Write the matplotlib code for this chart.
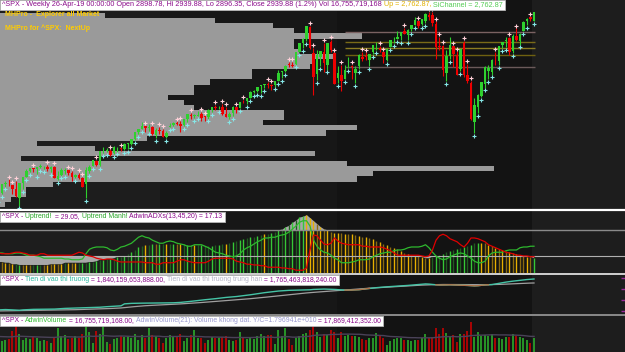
import numpy as np
import matplotlib
matplotlib.use("Agg")
import matplotlib.pyplot as plt
from matplotlib.patches import Rectangle
from matplotlib.lines import Line2D
from matplotlib.font_manager import FontProperties

# ---- weekly ^SPX bars (May 2016 - Apr 2019) ----
opens = [2046,2052,2099,2100,2092,2075,2031,2101,2132,2162, 2174,2173,2183,2184,2183,2171,2181,2121,2140,2163,
         2168,2154,2134,2142,2129,2100,2162,2186,2210,2191, 2258,2260,2260,2251,2273,2272,2267,2294,2295,2319,
         2353,2366,2381,2372,2379,2339,2363,2357,2329,2375, 2387,2398,2393,2387,2416,2437,2432,2432,2440,2431,
         2424,2459,2473,2475,2477,2443,2428,2446,2474,2469, 2503,2505,2521,2548,2555,2578,2583,2590,2580,2583,
         2602,2646,2652,2685,2679,2684,2745,2787,2809,2867, 2741,2637,2722,2745,2682,2791,2741,2619,2633,2614,
         2670,2675,2643,2675,2718,2722,2706,2742,2779,2765, 2742,2704,2769,2802,2810,2821,2849,2827,2858,2876,
         2897,2882,2895,2925,2926,2882,2775,2773,2640,2726, 2773,2731,2659,2790,2630,2591,2400,2476,2531,2586,
         2651,2644,2712,2702,2780,2798,2814,2747,2823,2797, 2848,2896,2914,2898]
highs = [2064,2100,2111,2120,2096,2113,2104,2131,2169,2175, 2177,2183,2194,2188,2193,2185,2187,2163,2175,2176,
         2169,2163,2149,2153,2131,2182,2189,2214,2214,2260, 2278,2273,2267,2282,2279,2276,2301,2300,2319,2352,
         2368,2401,2383,2390,2382,2370,2378,2366,2356,2398, 2400,2404,2406,2418,2440,2446,2441,2454,2450,2432,
         2464,2477,2484,2480,2490,2475,2449,2480,2474,2500, 2508,2520,2552,2557,2575,2582,2588,2598,2589,2604,
         2657,2652,2680,2695,2694,2744,2787,2811,2873,2871, 2763,2755,2748,2789,2787,2802,2742,2675,2683,2680,
         2718,2683,2677,2733,2743,2742,2736,2779,2791,2775, 2743,2764,2804,2816,2848,2841,2863,2855,2877,2916,
         2898,2908,2934,2940,2939,2894,2817,2778,2756,2816, 2775,2747,2760,2800,2685,2601,2520,2538,2598,2675,
         2681,2709,2743,2776,2794,2817,2817,2831,2860,2836, 2894,2911,2918,2940]
lows = [2025,2047,2085,2088,2050,2033,1992,2074,2132,2155, 2159,2148,2175,2172,2160,2157,2127,2119,2139,2145,
        2142,2115,2125,2120,2083,2028,2151,2186,2187,2187, 2248,2255,2233,2245,2257,2259,2264,2268,2288,2313,
        2344,2365,2354,2359,2336,2322,2344,2328,2322,2375, 2380,2385,2353,2380,2403,2415,2419,2429,2405,2407,
        2418,2452,2459,2465,2438,2425,2417,2429,2446,2469, 2496,2488,2520,2545,2547,2544,2566,2566,2557,2575,
        2601,2617,2645,2673,2672,2683,2742,2763,2797,2759, 2533,2608,2675,2648,2658,2742,2586,2594,2553,2611,
        2665,2613,2594,2660,2701,2707,2676,2736,2754,2743, 2692,2699,2769,2790,2806,2802,2833,2802,2848,2876,
        2864,2876,2887,2903,2874,2710,2755,2628,2604,2709, 2670,2631,2649,2621,2593,2409,2347,2444,2525,2570,
        2612,2634,2681,2682,2764,2770,2729,2741,2799,2781, 2848,2876,2897,2896]
closes = [2052,2099,2099,2096,2071,2037,2103,2130,2162,2175, 2173,2183,2184,2184,2169,2180,2128,2139,2165,2168,
          2153,2133,2141,2126,2085,2164,2182,2213,2192,2260, 2258,2263,2239,2277,2275,2271,2295,2297,2316,2351,
          2367,2383,2373,2378,2344,2363,2355,2329,2349,2384, 2399,2391,2382,2416,2439,2432,2433,2438,2423,2425,
          2459,2473,2472,2477,2441,2426,2443,2477,2461,2500, 2502,2519,2549,2553,2575,2581,2588,2582,2579,2602,
          2642,2652,2676,2683,2674,2743,2786,2810,2873,2762, 2620,2732,2747,2691,2786,2752,2588,2641,2604,2656,
          2670,2670,2663,2728,2712,2721,2735,2779,2780,2755, 2718,2760,2801,2802,2819,2840,2833,2850,2875,2902,
          2872,2905,2930,2914,2886,2767,2768,2658,2723,2781, 2736,2633,2760,2633,2600,2417,2486,2532,2596,2671,
          2665,2707,2708,2776,2793,2804,2743,2822,2801,2834, 2893,2907,2905,2940]

# volume at price (bin bottom, relative volume)
vap_price = [1985,2010,2035,2060,2085,2110,2135,2160,2185,2210,2235,2260,2285,2310,2335,2360,2385,2410,2435,2460,
             2485,2510,2535,2560,2585,2610,2635,2660,2685,2710,2735,2760,2785,2810,2835,2860,2885,2910,2935]
vap_vol = [2,3,6,6,11,69,72,95,67,5,61,19,8,29,63,69,51,55,55,38,
           36,33,38,38,41,49,49,60,61,65,58,57,57,70,57,53,42,21,0]

# support / resistance levels
levels = [2842, 2793, 2763, 2729, 2670]
level_colors = ["#7a6262", "#7a6a18", "#8c7c22", "#6e6010", "#6a5a5a"]

# AdwinADXs panel
adx = [12,12,11,11,9,9,8,8,8,8, 8,8,8,8,8,9,9,9,9,11, 11,11,11,11,11,11,12,12,13,15,
       15,16,16,17,19,19,20,23,25,28, 32,33,35,35,36,36,36,36,36,36, 36,36,36,36,35,35,35,35,35,33,
       33,33,35,35,36,36,37,39,40,41, 43,44,45,45,47,48,49,49,51,52, 55,56,59,61,65,68,72,73,75,71,
       67,63,59,56,55,52,51,51,51,49, 49,49,48,47,45,45,44,43,40,39, 36,35,32,31,29,27,24,23,21,20,
       20,19,17,17,19,20,21,23,25,27, 28,29,31,32,33,35,37,37,37,37, 35,33,31,29,28,27,25,24,23,21,
       20,19,19,17.13]
uptrend = [24,24,23,23,23,24,24,23,21,21, 21,20,19,17,17,17,17,17,17,16, 16,15,15,15,16,23,29,31,32,32,
           32,31,28,27,29,32,33,35,37,41, 45,47,45,44,41,39,37,37,39,40, 39,37,36,35,33,33,35,35,35,33,
           31,28,25,24,23,21,20,19,20,23, 28,31,33,36,39,41,44,44,45,45, 47,48,49,52,56,60,65,67,67,60,
           41,33,28,25,24,21,17,15,11,11, 11,12,13,15,15,15,16,19,21,23, 24,25,25,27,28,28,29,31,32,32,
           32,33,35,31,25,20,17,15,16,19, 21,23,24,23,20,17,13,11,11,13, 20,24,25,25,25,27,28,28,28,31,
           32,32,33,33]
downtrend = [24,23,23,23,24,25,25,24,23,21, 21,21,23,23,21,21,21,21,21,21, 21,21,23,25,24,21,20,19,17,16,
             15,16,16,15,13,12,12,12,12,12, 12,12,11,11,11,9,9,11,11,11, 11,13,15,15,13,12,11,11,11,11,
             13,16,17,17,17,17,17,16,13,12, 11,9,9,8,8,7,7,5,5,5, 5,4,4,3,3,1,1,1,4,28,
             48,47,41,36,35,37,44,40,37,36, 35,35,35,35,33,33,32,32,32,32, 31,29,27,24,21,21,21,21,21,21,
             21,20,19,20,28,41,47,49,47,43, 41,39,35,32,37,44,44,43,41,39, 35,33,31,29,27,25,24,23,21,21,
             20,20,19,19]
adx_state = ("YyYyYgGyYy" "gGgyYyYyYg" "YyYgGgGgGg" "GgGgGgGgGg" "GgYgGyGgYg" "GyYgGgYgGg"
             "gGgGgYgGgG" "GgGgGgYgGg" "GgGgGgGGYY" "YyYyYyYYyY" "yYyYyYyYyY" "yYyYyYyYyY"
             "yYyYgGgGgG" "gGgGgGgGYy" "YyYyYyYyYy" "yYyG")

# money flow panel (billions)
flow = [1262,1265,1268,1266,1262,1258,1255,1262,1266,1270, 1272,1273,1275,1276,1276,1278,1277,1282,1285,1290,
        1292,1294,1296,1298,1300,1302,1305,1308,1310,1312, 1318,1322,1326,1330,1334,1338,1375,1380,1384,1386,
        1388,1388,1389,1390,1390,1391,1392,1392,1393,1393, 1395,1398,1402,1408,1415,1422,1430,1440,1447,1452,
        1458,1465,1472,1480,1488,1495,1500,1505,1512,1520, 1528,1536,1545,1555,1565,1575,1584,1592,1600,1608,
        1615,1620,1625,1628,1630,1632,1634,1636,1637,1638, 1645,1648,1650,1652,1650,1648,1645,1640,1635,1632,
        1632,1634,1636,1640,1648,1655,1665,1672,1678,1684, 1690,1694,1698,1702,1706,1710,1714,1720,1726,1732,
        1738,1744,1748,1745,1738,1732,1728,1728,1730,1732, 1730,1728,1726,1724,1720,1716,1712,1715,1722,1730,
        1732,1736,1748,1762,1772,1782,1792,1800,1808,1815, 1822,1830,1836,1840.16]
flow_mid = [1242,1243,1244,1245,1246,1247,1248,1249,1250,1251, 1252,1253,1254,1255,1256,1257,1258,1259,1260,1261,
            1262,1264,1266,1268,1270,1272,1274,1276,1278,1280, 1282,1285,1288,1291,1294,1298,1305,1312,1318,1324,
            1330,1335,1340,1344,1348,1351,1354,1357,1360,1363, 1366,1370,1374,1378,1382,1386,1390,1395,1400,1405,
            1410,1415,1420,1425,1430,1435,1440,1445,1450,1455, 1460,1466,1472,1478,1484,1490,1497,1504,1511,1518,
            1525,1532,1539,1546,1553,1560,1567,1573,1579,1585, 1590,1595,1600,1605,1610,1615,1620,1625,1630,1636,
            1640,1645,1650,1656,1660,1664,1668,1672,1676,1680, 1684,1688,1692,1696,1700,1704,1708,1712,1716,1720,
            1723,1726,1729,1731,1733,1735,1736,1737,1737,1737, 1737,1737,1737,1737,1736,1735,1734,1733,1733,1733,
            1734,1735,1737,1739,1741,1744,1747,1750,1754,1758, 1760,1762,1764,1765.46]

# volume panel (billions)
volume = [17.5,14.0,15.0,16.0,22.0,27.0,20.0,15.5,17.0,16.0, 17.5,16.5,14.5,15.0,14.0,13.0,17.0,24.0,18.0,19.0,
          16.0,17.0,18.5,17.0,19.5,28.0,21.0,13.0,22.0,20.0, 26.0,13.5,12.0,16.0,17.0,18.0,17.5,18.0,17.0,19.5,
          15.0,19.0,17.0,24.0,19.0,18.0,16.5,13.0,17.0,19.0, 18.5,18.0,20.0,14.5,17.0,19.0,23.0,16.5,17.0,13.0,
          15.5,17.5,17.0,16.5,17.5,18.0,15.5,14.5,15.0,21.0, 16.5,16.0,17.0,16.0,18.5,19.5,18.5,19.0,19.0,12.0,
          22.5,18.5,24.5,16.0,11.0,17.0,18.5,20.0,20.5,22.5, 31.0,21.0,17.5,19.5,19.0,23.0,21.5,17.0,21.5,18.0,
          19.0,18.5,18.0,17.5,16.0,15.5,17.0,16.5,20.5,18.5, 17.0,11.5,14.5,16.0,17.0,16.5,15.5,15.5,14.0,15.0,
          15.5,16.5,20.0,17.0,17.5,24.0,20.0,24.5,20.5,18.0, 19.0,13.5,20.0,19.5,22.0,29.0,17.5,21.0,18.0,19.0,
          18.5,19.5,17.0,17.0,16.0,17.5,17.5,20.0,18.5,17.5, 16.5,15.5,13.0,16.76]
volume_avg = [17.8,17.7,17.6,17.5,17.6,17.9,18.0,17.9,17.8,17.7, 17.6,17.5,17.4,17.3,17.2,17.1,17.1,17.4,17.5,17.6,
              17.6,17.5,17.4,17.4,17.5,17.9,18.1,17.9,18.0,18.1, 18.5,18.3,18.1,
              18.0,18.1,18.2,18.1,18.0,17.8,17.9,17.8,17.8,17.8, 18.0,18.1,18.0,18.0,17.7,17.7,17.8,17.8,17.8,18.0,
              17.9,17.8,17.8,17.9,17.8,17.7,17.5,17.5,17.4,17.4, 17.3,17.3,17.2,17.1,17.0,17.0,17.1,17.0,17.0,17.0,
              17.1,17.2,17.3,17.3,17.3,17.3,17.0,17.3,17.4,17.7, 17.6,17.3,
              17.3,17.5,17.7,17.8,18.0,18.6,18.8,18.9,19.0,19.1, 19.3,19.4,19.4,19.6,19.6,19.6,19.6,19.5,19.5,19.3,
              19.0,18.9,18.8,18.7,18.6,18.5,18.1,17.8,17.7,17.6, 17.4,17.2,17.0,16.9,16.9,16.8,16.8,16.8,16.8,16.8,
              17.1,17.3,17.6,17.7,17.7,17.8,17.6,17.7,17.8,18.0, 18.5,18.6,
              18.8,18.8,18.9,19.0,19.1,19.1,19.0,19.0,19.0,18.9, 18.9,18.8,18.7,18.5,18.2,17.9,17.87]

# ---- layout (pixel rows of a 625x352 picture) ----
W, H = 625, 352
FONT = ["Liberation Sans", "DejaVu Sans"]
FS_TOP = 5.25
FS = 4.95
n = len(closes)
idx = np.arange(n)
o, h, l, c = map(np.array, (opens, highs, lows, closes))
up = c >= o

fig = plt.figure(figsize=(W / 100, H / 100), dpi=100)
fig.patch.set_facecolor("#141414")


def panel(y0, y1):
    ax = fig.add_axes([0, 1 - y1 / H, 1, (y1 - y0) / H])
    ax.set_xlim(0.43, 179.0)
    ax.set_facecolor("#141414")
    for s in ax.spines.values():
        s.set_visible(False)
    ax.set_xticks([])
    ax.set_yticks([])
    # alternating background shading
    for a, b, col in [(-2, 46.1, "#1d1d1d"), (46.1, 96.7, "#171717"), (96.7, 152.4, "#131313"), (152.4, 180, "#1d1d1d")]:
        ax.axvspan(a, b, color=col, lw=0, zorder=0)
    return ax


ax1 = panel(0, 209.5)
ax2 = panel(211, 273)
ax3 = panel(275, 314)
ax4 = panel(316, 352)

# ---- price panel ----
ax1.set_ylim(1973, 2999)
ax1.barh(vap_price, np.array(vap_vol) * 1.5, height=25, left=-1, align="edge",
         color="#9a9a9a", lw=0, zorder=1)
for lv, col in zip(levels, level_colors):
    ax1.hlines(lv, 99, 153.3, color=col, lw=1.0, zorder=2)
ccol = np.where(up, "#2ed12e", "#ee0000")
ax1.vlines(idx, l, h, color=ccol, lw=0.8, zorder=3)
body_lo = np.minimum(o, c)
body_h = np.maximum(np.abs(c - o), 2)
ax1.bar(idx, body_h, bottom=body_lo, width=0.62, color=ccol, lw=0, zorder=4)
ax1.plot(idx[up], l[up] - 14, ls="none", marker="+", ms=2.6, mew=0.8, color="#86e6e6", zorder=5)
ax1.plot(idx[~up], h[~up] + 14, ls="none", marker="+", ms=2.6, mew=0.8, color="#ffd0d8", zorder=5)

# ---- ADX panel ----
ax2.set_ylim(-2.7, 80)
adx_a = np.array(adx, dtype=float)
ax2.fill_between(idx, adx_a, 55, where=adx_a > 55, interpolate=True, color="#a8a8a8", lw=0, zorder=1)
ax2.fill_between(idx, adx_a, 20, where=adx_a < 20, interpolate=True, color="#a8a8a8", lw=0, zorder=1)
state_col = {"Y": "#e8b000", "y": "#8a6a10", "G": "#36c836", "g": "#1f5e1f"}
ax2.vlines(idx, -3, adx_a, colors=[state_col[s] for s in adx_state], lw=1.0, zorder=2)
ax2.axhline(55, color="#8a8a8a", lw=1.0, zorder=3)
ax2.axhline(20, color="#b0b0b0", lw=0.8, zorder=3)
ax2.plot(idx, uptrend, color="#2eb82e", lw=0.9, zorder=4)
ax2.plot(idx, downtrend, color="#e00000", lw=0.9, zorder=4)

# ---- money flow panel ----
ax3.set_ylim(1185, 1915)
fa, fm = np.array(flow), np.array(flow_mid)
ax3.plot(idx, fm, color="#a0a0a0", lw=0.9, zorder=2)
ax3.plot(idx, fa, color="#45c4a6", lw=1.0, zorder=3)
ax3.plot(idx, np.where(fa < fm, fa, np.nan), color="#b07048", lw=1.0, zorder=4)
ax3.yaxis.tick_right()
ax3.set_yticks([1250, 1450, 1650, 1850])
ax3.tick_params(axis="y", direction="in", length=3, width=1, color="#9a2a9a", labelright=False)

# ---- volume panel ----
ax4.set_ylim(6, 33.4)
ax4.vlines(idx, 0, volume, colors=np.where(up, "#2cb82c", "#d40000"), lw=1.1, zorder=2)
ax4.plot(idx, volume_avg, color="#4a4258", lw=1.0, zorder=3)

# separators
for yy, col, lw in [(210.2, "#ffffff", 1.6), (274.2, "#f0f0f0", 1.2), (315.0, "#8a8a8a", 1.4)]:
    fig.add_artist(Line2D([0, 1], [1 - yy / H] * 2, transform=fig.transFigure, color=col, lw=lw, zorder=8))

# ---- headers ----
r = fig.canvas.get_renderer()


def tw(s, fs):
    fp = FontProperties(family=FONT, size=fs)
    bar_w = r.get_text_width_height_descent("|", fp, ismath=False)[0]
    return r.get_text_width_height_descent(s + "|", fp, ismath=False)[0] - bar_w


def header(ytop, parts, fs):
    x = 2.0
    for s, col in parts:
        fig.text(x / W, 1 - (ytop + 1.2) / H, s, color=col, fontsize=fs, family=FONT,
                 va="top", ha="left", zorder=12)
        x += tw(s, fs)
    fig.add_artist(Rectangle((0, 1 - (ytop + 10) / H), (x + 2) / W, 10 / H, transform=fig.transFigure,
                             fc="white", ec="#b8b8b8", lw=0.6, zorder=11))


PUR, GRN, LAV = "#8a0a8a", "#2aa52a", "#9a9ad0"
header(0, [("^SPX - Weekly 26-Apr-19 00:00:00 Open 2898.78, Hi 2939.88, Lo 2896.35, Close 2939.88 (1.2%) Vol 16,755,719,168 ", PUR),
           ("Up = 2,762.87, ", "#e0b000"), ("SiChannel = 2,762.87", "#55cc55")], FS_TOP)
header(211.5, [("^SPX - ", PUR), ("Uptrend! ", GRN), (" = 29.05, ", PUR), ("Uptrend Manh! ", GRN),
               ("AdwinADXs(13,45,20) = 17.13", PUR)], FS)
header(274.5, [("^SPX - ", PUR), ("Tien di vao thi truong", "#2ab8a0"), (" = 1,840,159,653,888.00, ", PUR),
               ("Tien di vao thi truong trung han", "#b4b4c4"), (" = 1,765,463,818,240.00", PUR)], FS)
header(316, [("^SPX - ", PUR), ("AdwinVolume", "#33bb33"), (" = 16,755,719,168.00, ", PUR),
             ("AdwinVolume(21): Volume khong dat. Y/C=1.796941e+010", LAV), (" = 17,869,412,352.00", PUR)], FS)

fig.text(5 / W, 1 - 11 / H, "MHPro -  Explorer all Market", color="#ffcc00", fontsize=5.0,
         fontweight="bold", family=FONT, va="top", zorder=12)
fig.text(5 / W, 1 - 24.5 / H, "MHPro for ^SPX:  NextUp", color="#ffcc00", fontsize=5.0,
         fontweight="bold", family=FONT, va="top", zorder=12)

fig.savefig("out.png", dpi=100, facecolor=fig.get_facecolor())
